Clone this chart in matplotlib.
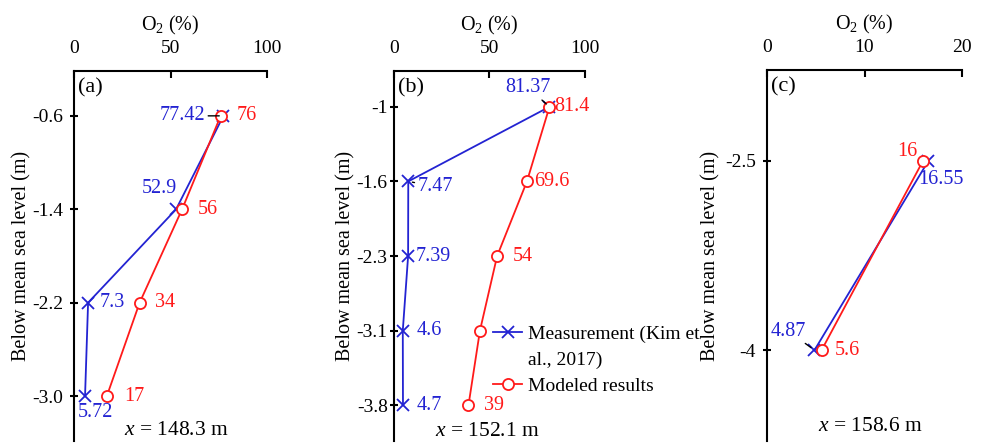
import matplotlib
matplotlib.use("Agg")
import matplotlib.pyplot as plt
from matplotlib.lines import Line2D

plt.rcParams['font.family'] = ['Liberation Serif', 'DejaVu Serif']
plt.rcParams['mathtext.fontset'] = 'custom'
plt.rcParams['mathtext.rm'] = 'Liberation Serif'
plt.rcParams['mathtext.it'] = 'Liberation Serif:italic'
plt.rcParams['font.size'] = 14

# ---------------- data ----------------
a_depth = ['-0.6', '-1.4', '-2.2', '-3.0']
a_meas = [77.42, 52.9, 7.3, 5.72]
a_model = [76, 56, 34, 17]

b_depth = ['-1', '-1.6', '-2.3', '-3.1', '-3.8']
b_meas = [81.37, 7.47, 7.39, 4.6, 4.7]
b_model = [81.4, 69.6, 54, 45, 39]

c_depth = ['-2.5', '-4']
c_meas = [16.55, 4.87]
c_model = [16, 5.6]

x_ticks_ab = [0, 50, 100]
x_ticks_c = [0, 10, 20]
panel_titles = ['(a)', '(b)', '(c)']
positions_x = ['$x$ = 148.3 m', '$x$ = 152.1 m', '$x$ = 158.6 m']

BLUE = '#2323D2'
RED = '#FF1A1A'

W, H = 987, 444
fig = plt.figure(figsize=(W / 100, H / 100), dpi=100)

def frac(l, r, t, b):
    return [l / W, 1 - b / H, (r - l) / W, (b - t) / H]

ax_a = fig.add_axes(frac(74, 267, 71, 441))
ax_b = fig.add_axes(frac(394, 585, 71, 441))
ax_c = fig.add_axes(frac(767, 962, 70, 441))

def style(ax, depth, xlim, xticks, ypad, labelpad):
    n = len(depth)
    ax.set_xlim(*xlim)
    ax.set_ylim(n - 1 + 0.48, -0.48)
    ax.set_xticks(xticks)
    ax.set_yticks(range(n))
    ax.set_yticklabels(depth)
    ax.xaxis.set_ticks_position('top')
    ax.xaxis.set_label_position('top')
    ax.spines['right'].set_visible(False)
    ax.spines['bottom'].set_visible(False)
    for s in ('top', 'left'):
        ax.spines[s].set_linewidth(1.5)
    ax.tick_params(axis='x', direction='in', length=5, width=1.5, pad=10, labelsize=14)
    ax.tick_params(axis='y', direction='inout', length=6, width=1.5, pad=ypad, labelsize=14)
    ax.set_xlabel('O$_2$ (%)', fontsize=14.5, labelpad=7)
    ax.set_ylabel('Below mean sea level (m)', fontsize=14.5, labelpad=labelpad)

def draw(ax, meas, model):
    pos = range(len(meas))
    lm, = ax.plot(meas, pos, color=BLUE, lw=1.3, marker='x', ms=9, mew=1.3,
                  label='Measurement', zorder=3)
    lr, = ax.plot(model, pos, color=RED, lw=1.3, marker='o', ms=8, mew=1.3,
                  mfc='white', label='Modeled results', zorder=4)
    return lm, lr

def lab(ax, v, i, s, color, dx, dy, ha='left', leader=False):
    kw = dict(xy=(v, i), xytext=(dx, dy), textcoords='offset pixels',
              color=color, fontsize=14.5, ha=ha, va='center', zorder=5)
    if leader:
        kw['arrowprops'] = dict(arrowstyle='-', color='black', lw=1.0,
                                shrinkA=0, shrinkB=3)
    ax.annotate(s, **kw)

# ---- panel (a)
style(ax_a, a_depth, (0, 100), x_ticks_ab, 5, 0)
draw(ax_a, a_meas, a_model)
lab(ax_a, a_meas[0], 0, f'{a_meas[0]:g}', BLUE, -18, 0, 'right', leader=True)
lab(ax_a, a_model[0], 0, f'{a_model[0]:g}', RED, 16, 0)
lab(ax_a, a_meas[1], 1, f'{a_meas[1]:g}', BLUE, 1, 21, 'right')
lab(ax_a, a_model[1], 1, f'{a_model[1]:g}', RED, 16, 0)
lab(ax_a, a_meas[2], 2, f'{a_meas[2]:g}', BLUE, 12, 0)
lab(ax_a, a_model[2], 2, f'{a_model[2]:g}', RED, 15, 0)
lab(ax_a, a_meas[3], 3, f'{a_meas[3]:g}', BLUE, -7, -16)
lab(ax_a, a_model[3], 3, f'{a_model[3]:g}', RED, 17, 0)

# ---- panel (b)
style(ax_b, b_depth, (0, 100), x_ticks_ab, 1.5, 1)
lm, lr = draw(ax_b, b_meas, b_model)
lab(ax_b, b_meas[0], 0, f'{b_meas[0]:g}', BLUE, -21, 19, 'center', leader=True)
lab(ax_b, b_model[0], 0, f'{b_model[0]:g}', RED, 5, 0)
lab(ax_b, b_meas[1], 1, f'{b_meas[1]:g}', BLUE, 9, -5, leader=True)
lab(ax_b, b_model[1], 1, f'{b_model[1]:g}', RED, 7, 0)
lab(ax_b, b_meas[2], 2, f'{b_meas[2]:g}', BLUE, 8, 0)
lab(ax_b, b_model[2], 2, f'{b_model[2]:g}', RED, 16, 0)
lab(ax_b, b_meas[3], 3, f'{b_meas[3]:g}', BLUE, 14, 0)
lab(ax_b, b_meas[4], 4, f'{b_meas[4]:g}', BLUE, 14, 0)
lab(ax_b, b_model[4], 4, f'{b_model[4]:g}', RED, 16, 0)

blank = Line2D([], [], linestyle='none')
ax_b.legend(handles=[lm, blank, lr],
            labels=['Measurement (Kim et', 'al., 2017)', 'Modeled results'],
            loc='upper left', bbox_to_anchor=(0.518, 0.312), frameon=False,
            handlelength=1.5, handletextpad=0.3, labelspacing=0.42,
            borderaxespad=0, borderpad=0, fontsize=14)

# ---- panel (c)
style(ax_c, c_depth, (0, 20), x_ticks_c, 5, 3.5)
draw(ax_c, c_meas, c_model)
lab(ax_c, c_model[0], 0, f'{c_model[0]:g}', RED, -6, 9, 'right')
lab(ax_c, c_meas[0], 0, f'{c_meas[0]:g}', BLUE, -10, -19)
lab(ax_c, c_meas[1], 1, f'{c_meas[1]:g}', BLUE, -26, 19, 'center', leader=True)
lab(ax_c, c_model[1], 1, f'{c_model[1]:g}', RED, 13, 0)

for ax, t, p, px, py in zip((ax_a, ax_b, ax_c), panel_titles, positions_x,
                            (0.53, 0.49, 0.53), (0.028, 0.026, 0.04)):
    ax.text(0.02, 0.955, t, transform=ax.transAxes, ha='left', va='center', fontsize=16)
    ax.text(px, py, p, transform=ax.transAxes, ha='center', va='center', fontsize=15.5)

fig.savefig('out.png', dpi=100)
